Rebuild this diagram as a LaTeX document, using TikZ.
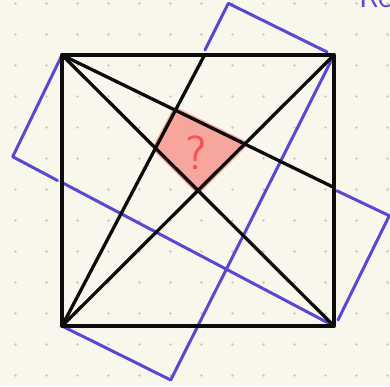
\documentclass[tikz,border=0pt]{standalone}
\usepackage{tikz}
\usetikzlibrary{calc}
\definecolor{mypaper}{RGB}{249,247,236}
\definecolor{mydot}{RGB}{204,202,194}
\definecolor{myblue}{RGB}{88,72,210}
\definecolor{myink}{RGB}{12,12,12}
\definecolor{myfill}{RGB}{246,166,156}
\definecolor{myred}{RGB}{246,84,84}
\tikzset{
  inkline/.style={line width=1.65pt, color=myink, line cap=round, line join=round},
  blueline/.style={line width=1.5pt, color=myblue, line cap=round, line join=round},
  blob/.style={fill=myfill, draw=myfill, line width=3pt, line join=round},
  qmark/.style={font=\sffamily\fontsize{24}{24}\selectfont, color=myred},
  scribble/.style={font=\sffamily\fontsize{16}{16}\selectfont, color=myblue, anchor=base west}
}
\begin{document}
\begin{tikzpicture}[x=0.5pt, y=-0.5pt]
\fill[mypaper] (0,0) rectangle (390,386);
\useasboundingbox (0,0) rectangle (390,386);
\clip (0,0) rectangle (390,386);
\foreach \i in {0,...,12} {
  \foreach \j in {0,...,12} {
    \fill[mydot] (15.5+31*\i, 3.5+31*\j) circle (0.7pt);
  }
}
% square and its corners
\coordinate (A) at (62,55);
\coordinate (B) at (334,55);
\coordinate (C) at (334,326);
\coordinate (D) at (62,326);
\coordinate (T) at (204.5,55);
\coordinate (R) at (334,187.5);
% corners of the tilted rectangles
\coordinate (P) at (12.7,156.7);
\coordinate (Q) at (228.3,3.3);
\coordinate (S) at (389.3,215.7);
\coordinate (U) at (170.7,380);
\coordinate (P1) at (57.5,180.5);
\coordinate (P2) at (61,182);
\coordinate (Q1) at (205,50);
\coordinate (Q2) at (327,52);
\coordinate (S1) at (336.7,190.7);
\coordinate (S2) at (338,320);
\filldraw[blob] (intersection of A--R and D--T) -- (intersection of A--R and D--B)
  -- (intersection of A--C and D--B) -- (intersection of A--C and D--T) -- cycle;
\node[qmark] (qm) at (196,153) {?};
\draw[blueline] (A) -- (P) -- (P1);
\draw[blueline] (P2) -- (C);
\draw[blueline] (Q1) -- (Q) -- (Q2);
\draw[blueline] (B) -- (U) -- (D);
\draw[blueline] (S1) -- (S) -- (S2);
\draw[inkline] (A) -- (B) -- (C) -- (D) -- cycle;
\draw[inkline] (A) -- (C);
\draw[inkline] (D) -- (B);
\draw[inkline] (A) -- (R);
\draw[inkline] (D) -- (T);
\node[scribble] (note) at (352,7) {Re};
\end{tikzpicture}
\end{document}
